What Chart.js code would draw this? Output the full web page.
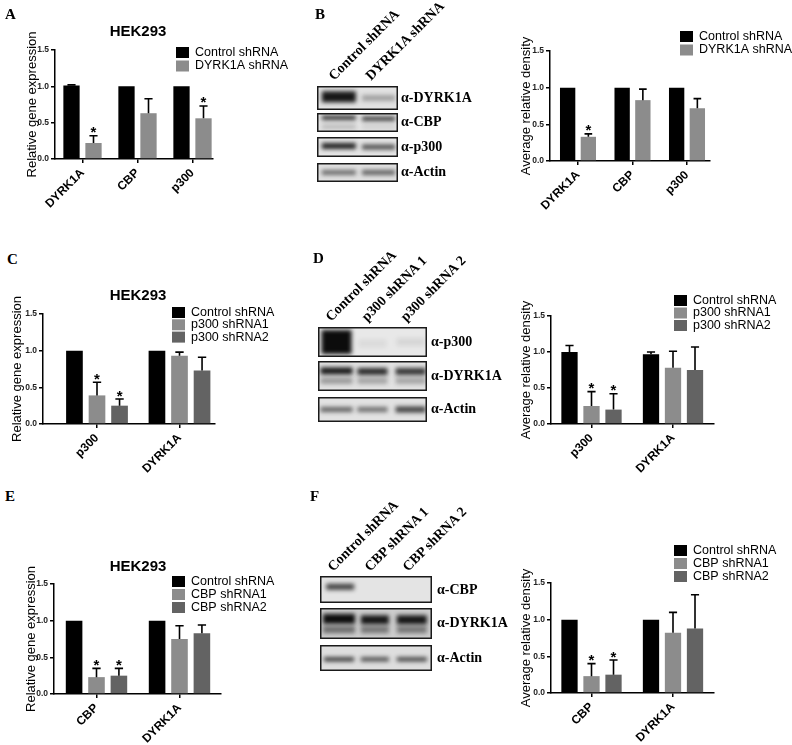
<!DOCTYPE html>
<html>
<head>
<meta charset="utf-8">
<script src="https://cdn.jsdelivr.net/npm/chart.js@4.4.1/dist/chart.umd.min.js"></script>
<style>
  body { margin: 0; background: #fff; }
  #fig { position: relative; width: 792px; height: 745px; overflow: hidden; }
  #fig canvas, #fig .t { position: absolute; }
  .letter { font: bold 15px "Times New Roman", "Liberation Serif", serif; line-height: 15px; }
  .hek { font: bold 15px Arial, "Liberation Sans", sans-serif; transform: translate(-50%, -50%); white-space: nowrap; }
  .blab { font: bold 14px "Times New Roman", "Liberation Serif", serif; transform: translateY(-50%); white-space: nowrap; }
  .lane { font: bold 14px "Times New Roman", "Liberation Serif", serif; line-height: 14px; white-space: nowrap;
          transform-origin: 0 100%; transform: rotate(-45deg); }
</style>
</head>
<body>
<div id="fig">
  <canvas id="blots"></canvas>
  <canvas id="cA"></canvas><canvas id="cB"></canvas>
  <canvas id="cC"></canvas><canvas id="cD"></canvas>
  <canvas id="cE"></canvas><canvas id="cF"></canvas>
</div>
<script>
// ---- data ----
// A: qPCR, DYRK1A knockdown
const catsA = ['DYRK1A', 'CBP', 'p300'];
const ctrlA = [1.01, 1.0, 1.0];
const ctrlErrA = [0.01, 0, 0];
const kdA = [0.22, 0.63, 0.56];
const kdErrA = [0.10, 0.20, 0.17];
const sigA = [true, false, true];

// B: blot density, DYRK1A knockdown
const catsB = ['DYRK1A', 'CBP', 'p300'];
const ctrlB = [1.0, 1.0, 1.0];
const kdB = [0.33, 0.83, 0.72];
const kdErrB = [0.04, 0.15, 0.13];
const sigB = [true, false, false];

// C: qPCR, p300 knockdown
const catsC = ['p300', 'DYRK1A'];
const ctrlC = [1.0, 1.0];
const kd1C = [0.39, 0.93];
const kd1ErrC = [0.18, 0.05];
const kd2C = [0.25, 0.73];
const kd2ErrC = [0.09, 0.18];
const sig1C = [true, false];
const sig2C = [true, false];

// D: blot density, p300 knockdown
const catsD = ['p300', 'DYRK1A'];
const ctrlD = [1.0, 0.97];
const ctrlErrD = [0.09, 0.03];
const kd1D = [0.25, 0.78];
const kd1ErrD = [0.20, 0.23];
const kd2D = [0.20, 0.75];
const kd2ErrD = [0.22, 0.32];
const sig1D = [true, false];
const sig2D = [true, false];

// E: qPCR, CBP knockdown
const catsE = ['CBP', 'DYRK1A'];
const ctrlE = [1.0, 1.0];
const kd1E = [0.23, 0.75];
const kd1ErrE = [0.12, 0.18];
const kd2E = [0.25, 0.83];
const kd2ErrE = [0.10, 0.11];
const sig1E = [true, false];
const sig2E = [true, false];

// F: blot density, CBP knockdown
const catsF = ['CBP', 'DYRK1A'];
const ctrlF = [1.0, 1.0];
const kd1F = [0.23, 0.82];
const kd1ErrF = [0.17, 0.28];
const kd2F = [0.25, 0.88];
const kd2ErrF = [0.20, 0.46];
const sig1F = [true, false];
const sig2F = [true, false];

const BLACK = '#000000', GREY1 = '#8c8c8c', GREY2 = '#636363';
const ARIAL = 'Arial, "Liberation Sans", sans-serif';
const none = n => new Array(n).fill(0);
const no = n => new Array(n).fill(false);

// error bars (upper only, like prism) + the significance stars
const errorBars = {
  id: 'errorBars',
  afterDatasetsDraw(chart) {
    const ctx = chart.ctx, ys = chart.scales.y;
    chart.data.datasets.forEach((ds, i) => {
      chart.getDatasetMeta(i).data.forEach((bar, j) => {
        const e = ds.err[j];
        const top = ys.getPixelForValue(ds.data[j].y + e);
        ctx.save();
        if (e > 0) {
          const cap = bar.width / 4;
          ctx.strokeStyle = '#000';
          ctx.lineWidth = 1.6;
          ctx.beginPath();
          ctx.moveTo(bar.x, bar.y);
          ctx.lineTo(bar.x, top);
          ctx.moveTo(bar.x - cap, top);
          ctx.lineTo(bar.x + cap, top);
          ctx.stroke();
        }
        if (ds.sig[j]) {
          ctx.fillStyle = '#000';
          ctx.font = 'bold 15px ' + ARIAL;
          ctx.textAlign = 'center';
          ctx.fillText('*', bar.x, top + 1.5);
        }
        ctx.restore();
      });
    });
  }
};

// legend sitting on top of the plot, top right
const boxLegend = {
  id: 'boxLegend',
  afterDraw(chart, args, opts) {
    const ctx = chart.ctx;
    ctx.save();
    chart.data.datasets.forEach((ds, i) => {
      const y = opts.y + i * opts.step;
      ctx.fillStyle = ds.backgroundColor;
      ctx.fillRect(opts.x, y - 5, 13, 11);
      ctx.fillStyle = '#000';
      ctx.font = '12.5px ' + ARIAL;
      ctx.textBaseline = 'middle';
      ctx.fillText(ds.label, opts.x + 19, y + 0.5);
    });
    ctx.restore();
  }
};

// y title drawn by hand: the built-in one squeezes text longer than the axis
const yTitle = {
  id: 'yTitle',
  afterDraw(chart, args, opts) {
    const ctx = chart.ctx, a = chart.chartArea;
    ctx.save();
    ctx.translate(opts.x, (a.top + a.bottom) / 2);
    ctx.rotate(-Math.PI / 2);
    ctx.fillStyle = '#000';
    ctx.font = '13px ' + ARIAL;
    ctx.textAlign = 'center';
    ctx.textBaseline = 'middle';
    ctx.fillText(opts.text, 0, 0);
    ctx.restore();
  }
};

// box = canvas rect on the page, plot = where the axes go on the page
function barChart(id, box, plot, cats, sets, titleText, titleX, leg) {
  const cv = document.getElementById(id);
  cv.width = box.w; cv.height = box.h;
  cv.style.left = box.x + 'px'; cv.style.top = box.y + 'px';
  const axisLine = {drawOnChartArea: false, offset: false, tickLength: 4, color: '#000', lineWidth: 1.5};
  return new Chart(cv, {
    type: 'bar',
    data: {
      datasets: sets.map(s => ({
        label: s.label,
        data: s.data.map((v, i) => ({x: i, y: v})),
        err: s.err,
        sig: s.sig,
        backgroundColor: s.color,
        categoryPercentage: plot.cp,
        barPercentage: 0.74
      }))
    },
    options: {
      responsive: false,
      animation: false,
      devicePixelRatio: 1,
      layout: {padding: {left: 0, bottom: 0, top: plot.T - box.y, right: box.x + box.w - plot.R}},
      plugins: {
        legend: {display: false},
        tooltip: {enabled: false},
        boxLegend: {x: leg.x - box.x, y: leg.y - box.y, step: leg.step},
        yTitle: {text: titleText, x: titleX - box.x}
      },
      scales: {
        x: {
          type: 'linear',
          offset: false,
          min: (plot.L - plot.c0) / plot.step,
          max: (plot.R - plot.c0) / plot.step,
          afterBuildTicks: s => { s.ticks = cats.map((c, i) => ({value: i})); },
          afterFit: s => { s.height = box.y + box.h - plot.B; },
          ticks: {
            callback: v => cats[v],
            autoSkip: false, minRotation: 45, maxRotation: 45, padding: 3,
            color: '#000', font: {family: ARIAL, size: 12, weight: 'bold'}
          },
          grid: axisLine,
          border: {color: '#000', width: 1.5}
        },
        y: {
          min: 0, max: 1.5,
          afterFit: s => { s.width = plot.L - box.x; },
          ticks: {
            stepSize: 0.5, padding: 2,
            callback: v => v.toFixed(1),
            color: '#222', font: {family: ARIAL, size: 8.5, weight: 'bold'}
          },
          grid: axisLine,
          border: {color: '#000', width: 1.5}
        }
      }
    },
    plugins: [errorBars, boxLegend, yTitle]
  });
}

const QPCR = 'Relative gene expression', DENS = 'Average relative density';

barChart('cA', {x: 0, y: 20, w: 300, h: 230}, {L: 55, R: 213, T: 50, B: 159, c0: 82.5, step: 55, cp: 0.8}, catsA, [
  {label: 'Control shRNA', data: ctrlA, err: ctrlErrA, sig: no(3), color: BLACK},
  {label: 'DYRK1A shRNA', data: kdA, err: kdErrA, sig: sigA, color: GREY1}
], QPCR, 32, {x: 176, y: 52, step: 13.5});

barChart('cB', {x: 500, y: 20, w: 292, h: 230}, {L: 550, R: 710, T: 51, B: 161, c0: 578, step: 54.5, cp: 0.76}, catsB, [
  {label: 'Control shRNA', data: ctrlB, err: none(3), sig: no(3), color: BLACK},
  {label: 'DYRK1A shRNA', data: kdB, err: kdErrB, sig: sigB, color: GREY1}
], DENS, 526, {x: 680, y: 36, step: 13.5});

barChart('cC', {x: 0, y: 285, w: 300, h: 200}, {L: 43, R: 215, T: 314, B: 424, c0: 97, step: 82.5, cp: 0.82}, catsC, [
  {label: 'Control shRNA', data: ctrlC, err: none(2), sig: no(2), color: BLACK},
  {label: 'p300 shRNA1', data: kd1C, err: kd1ErrC, sig: sig1C, color: GREY1},
  {label: 'p300 shRNA2', data: kd2C, err: kd2ErrC, sig: sig2C, color: GREY2}
], QPCR, 17, {x: 172, y: 312, step: 12.3});

barChart('cD', {x: 500, y: 285, w: 292, h: 200}, {L: 551, R: 714, T: 316, B: 424, c0: 591.5, step: 81.5, cp: 0.81}, catsD, [
  {label: 'Control shRNA', data: ctrlD, err: ctrlErrD, sig: no(2), color: BLACK},
  {label: 'p300 shRNA1', data: kd1D, err: kd1ErrD, sig: sig1D, color: GREY1},
  {label: 'p300 shRNA2', data: kd2D, err: kd2ErrD, sig: sig2D, color: GREY2}
], DENS, 526, {x: 674, y: 300, step: 12.5});

barChart('cE', {x: 0, y: 560, w: 300, h: 185}, {L: 54, R: 221, T: 584, B: 694, c0: 96.5, step: 83, cp: 0.81}, catsE, [
  {label: 'Control shRNA', data: ctrlE, err: none(2), sig: no(2), color: BLACK},
  {label: 'CBP shRNA1', data: kd1E, err: kd1ErrE, sig: sig1E, color: GREY1},
  {label: 'CBP shRNA2', data: kd2E, err: kd2ErrE, sig: sig2E, color: GREY2}
], QPCR, 31, {x: 172, y: 581, step: 13});

barChart('cF', {x: 500, y: 530, w: 292, h: 215}, {L: 551, R: 714, T: 583, B: 693, c0: 591.5, step: 81.5, cp: 0.81}, catsF, [
  {label: 'Control shRNA', data: ctrlF, err: none(2), sig: no(2), color: BLACK},
  {label: 'CBP shRNA1', data: kd1F, err: kd1ErrF, sig: sig1F, color: GREY1},
  {label: 'CBP shRNA2', data: kd2F, err: kd2ErrF, sig: sig2F, color: GREY2}
], DENS, 526, {x: 674, y: 550, step: 13});

// ---- western blot strips (just drawn, not data) ----
// each box: page x/y/w/h, background, bands as [lane pos, y pos (0-1), width, height, darkness]
const blotB = [
  {x: 317, y: 86, w: 81, h: 24, bg: '#e2e2e2', bands: [[0.27, 0.45, 34, 11, 0.95], [0.76, 0.5, 33, 6, 0.3]]},
  {x: 317, y: 113, w: 81, h: 19, bg: '#e4e4e4', bands: [[0.27, 0.25, 34, 4, 0.9], [0.27, 0.72, 34, 5, 0.18], [0.76, 0.3, 33, 4, 0.85], [0.76, 0.72, 33, 4, 0.1]]},
  {x: 317, y: 137, w: 81, h: 20, bg: '#e4e4e4', bands: [[0.27, 0.45, 34, 6, 0.9], [0.76, 0.5, 33, 5, 0.7]]},
  {x: 317, y: 163, w: 81, h: 19, bg: '#e0e0e0', bands: [[0.27, 0.5, 34, 5, 0.55], [0.76, 0.5, 33, 5, 0.6]]}
];
const blotD = [
  {x: 318, y: 327, w: 109, h: 30, bg: '#e8e8e8', bands: [[0.17, 0.5, 30, 24, 1], [0.5, 0.55, 28, 8, 0.06], [0.85, 0.5, 28, 8, 0.08]]},
  {x: 318, y: 361, w: 109, h: 30, bg: '#e2e2e2', bands: [[0.17, 0.33, 32, 7, 0.95], [0.5, 0.35, 30, 7, 0.85], [0.85, 0.35, 30, 7, 0.8],
    [0.17, 0.66, 32, 6, 0.35], [0.5, 0.66, 30, 6, 0.3], [0.85, 0.66, 30, 6, 0.3]]},
  {x: 318, y: 397, w: 109, h: 25, bg: '#e2e2e2', bands: [[0.17, 0.5, 32, 5, 0.6], [0.5, 0.5, 30, 5, 0.55], [0.85, 0.5, 30, 6, 0.75]]}
];
const blotF = [
  {x: 320, y: 576, w: 112, h: 27, bg: '#e4e4e4', bands: [[0.18, 0.4, 28, 6, 0.75]]},
  {x: 320, y: 608, w: 112, h: 31, bg: '#cdcdcd', bands: [[0.17, 0.35, 32, 10, 1], [0.49, 0.38, 28, 9, 0.95], [0.82, 0.38, 30, 9, 0.95],
    [0.17, 0.7, 32, 7, 0.5], [0.49, 0.7, 28, 7, 0.45], [0.82, 0.7, 30, 7, 0.45]]},
  {x: 320, y: 645, w: 112, h: 26, bg: '#dedede', bands: [[0.17, 0.55, 30, 4, 0.85], [0.49, 0.55, 28, 4, 0.75], [0.82, 0.55, 30, 4, 0.8]]}
];

const bc = document.getElementById('blots');
bc.width = 200; bc.height = 745;
bc.style.left = '300px'; bc.style.top = '0px';
const bctx = bc.getContext('2d');
bctx.translate(-300, 0);
[blotB, blotD, blotF].forEach(blot => blot.forEach(b => {
  bctx.fillStyle = b.bg;
  bctx.fillRect(b.x, b.y, b.w, b.h);
  b.bands.forEach(([lx, ly, bw, bh, a]) => {
    bctx.save();
    bctx.beginPath();
    bctx.rect(b.x, b.y, b.w, b.h);
    bctx.clip();
    bctx.filter = 'blur(2px)';
    bctx.fillStyle = 'rgba(12,12,12,' + a + ')';
    bctx.fillRect(b.x + lx * b.w - bw / 2, b.y + ly * b.h - bh / 2, bw, bh);
    bctx.restore();
  });
  bctx.lineWidth = 1.5;
  bctx.strokeStyle = '#1a1a1a';
  bctx.strokeRect(b.x + 0.75, b.y + 0.75, b.w - 1.5, b.h - 1.5);
}));

// ---- plain text bits: panel letters, titles, blot labels ----
const fig = document.getElementById('fig');
function txt(cls, s, x, y) {
  const d = document.createElement('div');
  d.className = 't ' + cls;
  d.textContent = s;
  d.style.left = x + 'px';
  d.style.top = y + 'px';
  fig.appendChild(d);
}
[['A', 5, 7], ['B', 315, 7], ['C', 7, 252], ['D', 313, 251], ['E', 5, 489], ['F', 310, 489]]
  .forEach(l => txt('letter', l[0], l[1], l[2]));
[30, 294, 565].forEach(y => txt('hek', 'HEK293', 138, y));

[['α-DYRK1A', 98], ['α-CBP', 122], ['α-p300', 147], ['α-Actin', 172]].forEach(l => txt('blab', l[0], 401, l[1]));
[['α-p300', 342], ['α-DYRK1A', 376], ['α-Actin', 409]].forEach(l => txt('blab', l[0], 431, l[1]));
[['α-CBP', 590], ['α-DYRK1A', 623], ['α-Actin', 658]].forEach(l => txt('blab', l[0], 437, l[1]));

// lane headers, rotated; y is where the text line ends at the bottom
[['Control shRNA', 336, 83], ['DYRK1A shRNA', 373, 83],
 ['Control shRNA', 333, 324], ['p300 shRNA 1', 369, 324], ['p300 shRNA 2', 408, 324],
 ['Control shRNA', 335, 574], ['CBP shRNA 1', 372, 574], ['CBP shRNA 2', 410, 574]]
  .forEach(l => txt('lane', l[0], l[1], l[2] - 14));
</script>
</body>
</html>
